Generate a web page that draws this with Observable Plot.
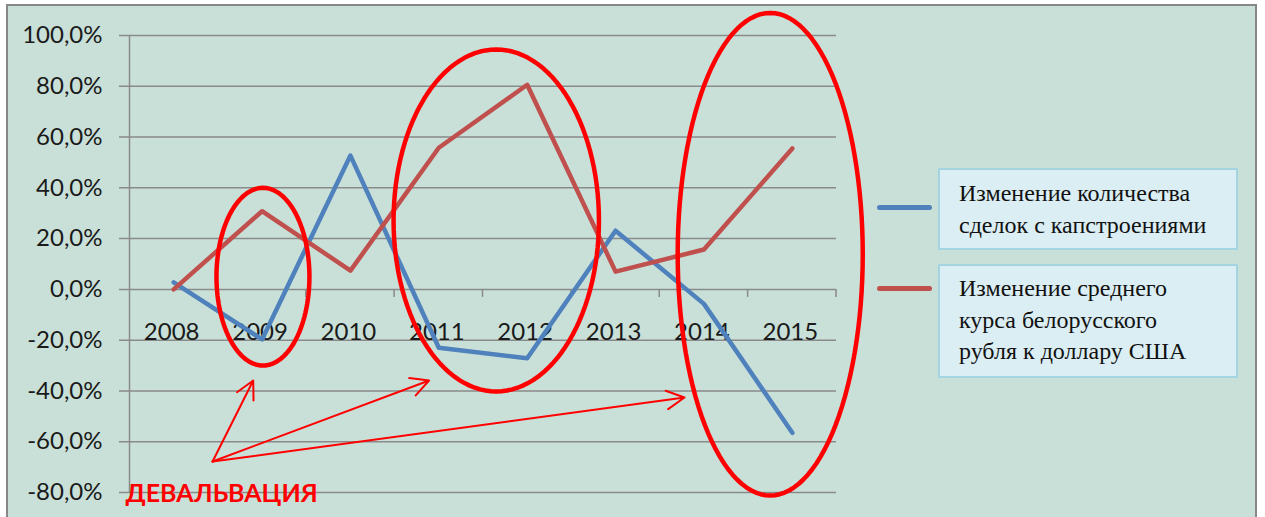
<!DOCTYPE html>
<html>
<head>
<meta charset="utf-8">
<script src="https://cdn.jsdelivr.net/npm/d3@7"></script>
<script src="https://cdn.jsdelivr.net/npm/@observablehq/plot@0.6"></script>
<style>
  html, body { margin: 0; padding: 0; background: #fff; }
  #wrap { position: relative; width: 1265px; height: 517px; overflow: hidden; }
  #panel { position: absolute; left: 6px; top: 4px; width: 1251px; height: 540px; box-sizing: border-box;
           background: #c9e0d8; border: 2px solid #878787; }
  #chart { position: absolute; left: 0; top: 0; }
  .key { position: absolute; left: 938px; width: 300px; box-sizing: border-box; background: #dbeef3;
         border: 2px solid #a3d4e0; font-family: "Liberation Serif", serif; font-size: 24px;
         line-height: 31.5px; color: #111; padding-left: 19px; white-space: pre-line; }
  .swatch { position: absolute; left: 877px; width: 55px; height: 4.5px; border-radius: 2.5px; }
</style>
</head>
<body>
<div id="wrap">
  <div id="panel"></div>
  <div id="chart"></div>
</div>
<script>
// Years on the category axis
const years = [2008, 2009, 2010, 2011, 2012, 2013, 2014, 2015];
// Year-over-year change in the number of capital-construction deals, %
const dealsChange = [2.8, -19.7, 52.7, -23.0, -27.1, 23.1, -5.7, -56.5];
// Year-over-year change in the average BYR/USD exchange rate, %
const rateChange = [0.0, 30.8, 7.4, 55.8, 80.6, 7.0, 15.7, 55.5];
// Value axis ticks, %
const yTicks = [-80, -60, -40, -20, 0, 20, 40, 60, 80, 100];

const seriesNames = [
  "Изменение количества\nсделок с капстроениями",
  "Изменение среднего\nкурса белорусского\nрубля к доллару США"
];
const seriesColors = ["#4f81bd", "#c0504d"];

// Devaluation periods circled on the chart (centre year, half-width in years, top/bottom in %)
const ellipses = [
  {cx: 2009.01, rx: 0.526, top: 40.0, bottom: -30.0},
  {cx: 2011.65, rx: 1.162, top: 94.5, bottom: -40.2},
  {cx: 2014.75, rx: 1.047, top: 108.9, bottom: -81.2}
];
// Pointers from the callout label to each circled period
const arrows = [
  {x1: 2008.44, y1: -67.8, x2: 2008.90, y2: -35.9},
  {x1: 2008.44, y1: -67.8, x2: 2010.89, y2: -35.9},
  {x1: 2008.44, y1: -67.8, x2: 2013.78, y2: -42.6}
];
const callouts = [{x: 2007.455, y: -83.8, text: "ДЕВАЛЬВАЦИЯ"}];

const gridColor = "#8a8a8a";
const highlight = "#ff0000";

const series = years.flatMap((year, i) => [
  {year, value: dealsChange[i], series: seriesNames[0]},
  {year, value: rateChange[i], series: seriesNames[1]}
]);

// Category boundaries (where the small tick marks sit on the zero line)
const xBoundaries = years.map(y => y + 0.5);
const xDomain = [years[0] - 0.5, years[years.length - 1] + 0.5];

// Outline points for each highlight ellipse
const ellipsePts = ellipses.flatMap((e, id) =>
  d3.range(0, 360, 3).map(a => {
    const t = a * Math.PI / 180;
    return {
      id,
      x: e.cx + e.rx * Math.cos(t),
      y: (e.top + e.bottom) / 2 + (e.top - e.bottom) / 2 * Math.sin(t)
    };
  })
);

const pct = d => d.toFixed(1).replace(".", ",") + "%";

const chart = Plot.plot({
  width: 1265,
  height: 517,
  marginLeft: 129,
  marginRight: 429,
  marginTop: 35,
  marginBottom: 25,
  x: {type: "linear", domain: xDomain, axis: null},
  y: {type: "linear", domain: [-80, 100], axis: null},
  color: {domain: seriesNames, range: seriesColors},
  style: {background: "transparent", overflow: "visible", fontFamily: "Lato", color: "#1a1a1a"},
  marks: [
    Plot.ruleY(yTicks, {y: d => d, stroke: gridColor, strokeWidth: 1.5, insetLeft: -10}),
    Plot.ruleX([xDomain[0]], {x: d => d, stroke: gridColor, strokeWidth: 1.5}),
    (index, {x, y}) => {
      const g = d3.create("svg:g").attr("stroke", gridColor).attr("stroke-width", 1.5);
      g.selectAll("line").data(xBoundaries).join("line")
        .attr("x1", d => x(d)).attr("x2", d => x(d))
        .attr("y1", y(0)).attr("y2", y(0) + 8);
      return g.node();
    },
    Plot.text(yTicks, {x: () => xDomain[0], y: d => d, dx: -27, textAnchor: "end", text: pct,
                       fontSize: 24, fill: "#1a1a1a"}),
    Plot.text(years, {x: d => d, y: () => 0, dx: -2, dy: 43, text: d => String(d),
                      fontSize: 24, fill: "#1a1a1a"}),
    Plot.line(series, {x: "year", y: "value", z: "series", stroke: "series",
                       strokeWidth: 4.5, strokeLinejoin: "round", strokeLinecap: "round"}),
    Plot.line(ellipsePts, {x: "x", y: "y", z: "id", stroke: highlight, strokeWidth: 4.5,
                           curve: "linear-closed"}),
    Plot.arrow(arrows, {x1: "x1", y1: "y1", x2: "x2", y2: "y2", stroke: highlight,
                        strokeWidth: 2, headLength: 15, headAngle: 55}),
    Plot.text(callouts, {x: "x", y: "y", text: "text", textAnchor: "start", lineAnchor: "bottom",
                         fill: highlight, fontWeight: "bold", fontSize: 25, fontFamily: "Lato"})
  ]
});
document.getElementById("chart").appendChild(chart);

// Legend: a coloured swatch beside a bordered text box for each series
const wrap = document.getElementById("wrap");
const keyBoxes = [
  {top: 168, height: 82, pad: 8, swatchY: 205},
  {top: 264, height: 114, pad: 7, swatchY: 286}
];
seriesNames.forEach((name, i) => {
  const sw = document.createElement("div");
  sw.className = "swatch";
  sw.style.top = keyBoxes[i].swatchY + "px";
  sw.style.background = seriesColors[i];
  wrap.appendChild(sw);
  const box = document.createElement("div");
  box.className = "key";
  box.style.top = keyBoxes[i].top + "px";
  box.style.height = keyBoxes[i].height + "px";
  box.style.paddingTop = keyBoxes[i].pad + "px";
  box.textContent = name;
  wrap.appendChild(box);
});
</script>
</body>
</html>
